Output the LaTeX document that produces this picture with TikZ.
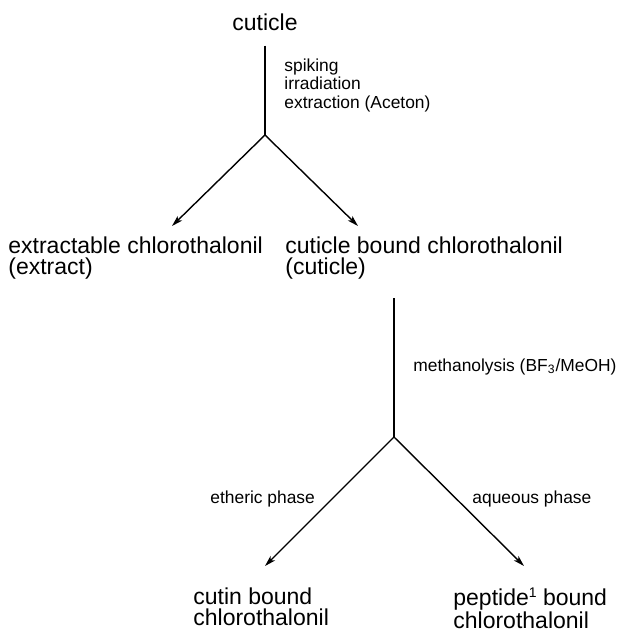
\documentclass[tikz,border=0pt]{standalone}
\usepackage{fontspec}
\setmainfont{Liberation Sans}
\usetikzlibrary{arrows.meta, positioning}

\begin{document}
\begin{tikzpicture}[x=0.5pt, y=-0.5pt,
    stage/.style={inner sep=0pt, align=left, font=\fontsize{11.5}{10.5}\selectfont},
    cond/.style={inner sep=0pt, align=left, font=\fontsize{8.7}{9.3}\selectfont},
    stem/.style={line width=0.7pt},
    branch/.style={line width=0.7pt, -{Stealth[length=5.5pt, width=3.2pt, inset=1.4pt]}}
]
\useasboundingbox (0,0) rectangle (618,633);

% first step
\node[stage, anchor=base] (cut) at (265,30) {cuticle};
\node[cond, anchor=north west] (work) at (284,58) {spiking\\irradiation\\extraction (Aceton)};
\coordinate (j1) at (265,135);
\coordinate (t1) at (172,226);
\coordinate (t2) at (358,226);
\node[stage, anchor=north west] (ext) at (8,236) {extractable chlorothalonil\\(extract)};
\node[stage, anchor=north west] (cb) at (285,236) {cuticle bound chlorothalonil\\(cuticle)};

\draw[stem, shorten <=7.5pt] (cut) -- (j1);
\draw[branch] (j1) -- (t1);
\draw[branch] (j1) -- (t2);

% second step
\coordinate (j2) at (394,437);
\coordinate (t3) at (265,566);
\coordinate (t4) at (524,566);
\node[cond, anchor=north west] (meth) at (413,358) {methanolysis (BF\textsubscript{3}/MeOH)};
\node[cond, anchor=base west] (eth) at (210,503) {etheric phase};
\node[cond, anchor=base west] (aq) at (472,503) {aqueous phase};
\node[stage, anchor=north west] (cutin) at (193,587) {cutin bound\\chlorothalonil};
\node[stage, anchor=north west] (pep) at (453,588) {peptide\raisebox{3.6pt}{\smash{\fontsize{7}{7}\selectfont 1}} bound\\chlorothalonil};

\draw[stem, shorten <=9.5pt] (cb.south -| j2) -- (j2);
\draw[branch] (j2) -- (t3);
\draw[branch] (j2) -- (t4);
\end{tikzpicture}
\end{document}
